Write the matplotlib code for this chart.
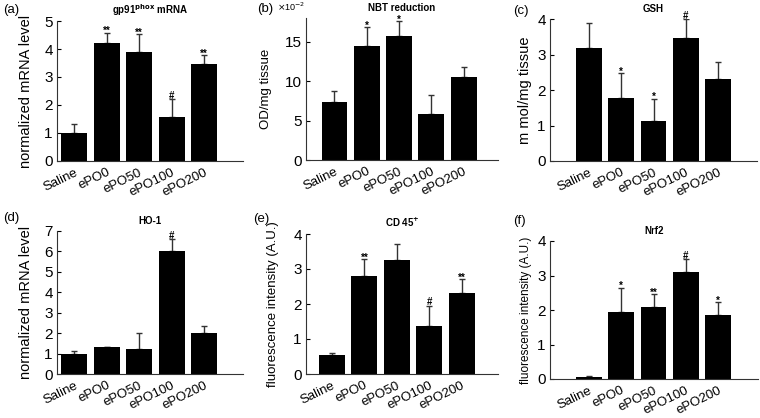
import matplotlib
matplotlib.use('Agg')
import matplotlib.pyplot as plt
import matplotlib.transforms as mtransforms

plt.rcParams['font.family'] = ['Liberation Sans', 'DejaVu Sans']

groups = ['Saline', 'ePO0', 'ePO50', 'ePO100', 'ePO200']

# (a) gp91phox mRNA
gp91_mean = [1.0, 4.22, 3.9, 1.58, 3.45]
gp91_err = [0.31, 0.36, 0.62, 0.62, 0.32]
gp91_sig = ['', '**', '**', '#', '**']

# (b) NBT reduction (x10^-2)
nbt_mean = [7.3, 14.4, 15.7, 5.8, 10.55]
nbt_err = [1.43, 2.4, 1.9, 2.4, 1.25]
nbt_sig = ['', '*', '*', '', '']

# (c) GSH
gsh_mean = [3.19, 1.77, 1.14, 3.46, 2.32]
gsh_err = [0.71, 0.7, 0.62, 0.53, 0.47]
gsh_sig = ['', '*', '*', '#', '']

# (d) HO-1
ho1_mean = [1.0, 1.3, 1.2, 6.03, 2.0]
ho1_err = [0.11, 0.04, 0.82, 0.56, 0.35]
ho1_sig = ['', '', '', '#', '']

# (e) CD 45+
cd45_mean = [0.53, 2.79, 3.26, 1.38, 2.31]
cd45_err = [0.06, 0.49, 0.45, 0.57, 0.4]
cd45_sig = ['', '**', '', '#', '**']

# (f) Nrf2
nrf2_mean = [0.07, 1.94, 2.08, 3.09, 1.85]
nrf2_err = [0.03, 0.71, 0.38, 0.38, 0.38]
nrf2_sig = ['', '*', '**', '#', '*']

W, H = 760, 418
fig = plt.figure(figsize=(W / 100, H / 100), dpi=100)


def rect(l, r, top, bottom):
    return [l / W, 1 - bottom / H, (r - l) / W, (bottom - top) / H]


# tag, title, ylabel, data, axes box in px (left, right, top, bottom), xlim, ylim, yticks,
# ylabel size, labelpad, tag position in px
panels = [
    ('(a)', r'gp91$^{\mathbf{phox}}$ mRNA', 'normalized mRNA level', gp91_mean, gp91_err, gp91_sig,
     (57, 243, 21, 161), (-0.53, 5.2), (0, 5), [0, 1, 2, 3, 4, 5], 10.5, 8, (3, 10)),
    ('(b)', 'NBT reduction', 'OD/mg tissue', nbt_mean, nbt_err, nbt_sig,
     (306, 498, 18, 160), (-0.88, 5.06), (0, 18), [0, 5, 10, 15], 9.5, 9, (257, 9)),
    ('(c)', 'GSH', 'm mol/mg tissue', gsh_mean, gsh_err, gsh_sig,
     (550, 757, 19, 161), (-1.2, 5.2), (0, 4), [0, 1, 2, 3, 4], 10.5, 4, (513, 11)),
    ('(d)', 'HO-1', 'normalized mRNA level', ho1_mean, ho1_err, ho1_sig,
     (57, 243, 231, 374), (-0.53, 5.2), (0, 7), list(range(8)), 10.5, 8, (3, 218)),
    ('(e)', r'CD 45$^{\mathbf{+}}$', 'fluorescence intensity (A.U.)', cd45_mean, cd45_err, cd45_sig,
     (306, 498, 234, 374), (-0.8, 5.12), (0, 4), [0, 1, 2, 3, 4], 9.5, 10, (253, 219)),
    ('(f)', 'Nrf2', 'fluorescence intensity (A.U.)', nrf2_mean, nrf2_err, nrf2_sig,
     (550, 758, 241, 379), (-1.2, 5.23), (0, 4), [0, 1, 2, 3, 4], 8.5, 4, (513, 221)),
]

x = list(range(len(groups)))
for tag, title, ylab, mean, err, sig, box, xl, yl, yt, yfs, lp, tpos in panels:
    ax = fig.add_axes(rect(*box))
    ax.bar(x, mean, width=0.8, color='black', zorder=2)
    ax.errorbar(x, mean, yerr=[[0] * 5, err], fmt='none', ecolor='#333333',
                elinewidth=1, capsize=2.5, capthick=1, zorder=1)
    for xi, m, e, s in zip(x, mean, err, sig):
        if s:
            dy = -2.5 if '*' in s else -1
            ax.annotate(s, (xi, m + e), xytext=(0, dy), textcoords='offset points',
                        ha='center', va='bottom', fontsize=7, fontweight='bold')
    ax.set_xlim(*xl)
    ax.set_ylim(*yl)
    ax.set_yticks(yt)
    ax.set_yticklabels([str(v) for v in yt], fontsize=11)
    ax.set_xticks(x)
    ax.set_xticklabels(groups, rotation=26, ha='right', rotation_mode='anchor', fontsize=9.5)
    off = mtransforms.ScaledTranslation(9 / 100, 0, fig.dpi_scale_trans)
    for lab in ax.get_xticklabels():
        lab.set_transform(lab.get_transform() + off)
    ax.tick_params(axis='x', length=0, pad=4)
    ax.tick_params(axis='y', direction='in', length=3, width=0.8, pad=3)
    ax.spines['top'].set_visible(False)
    ax.spines['right'].set_visible(False)
    for sp in ('left', 'bottom'):
        ax.spines[sp].set_linewidth(0.8)
        ax.spines[sp].set_color('#333333')
    ax.set_ylabel(ylab, fontsize=yfs, labelpad=lp)
    ax.set_title(title, fontsize=7, fontweight='bold', pad=5)
    fig.text(tpos[0] / W, 1 - tpos[1] / H, tag, fontsize=9.5, va='center')

fig.text(277 / W, 1 - 7 / H, r'$\times$10$^{-2}$', fontsize=6.5, va='center')

fig.savefig('out.png', dpi=100)
